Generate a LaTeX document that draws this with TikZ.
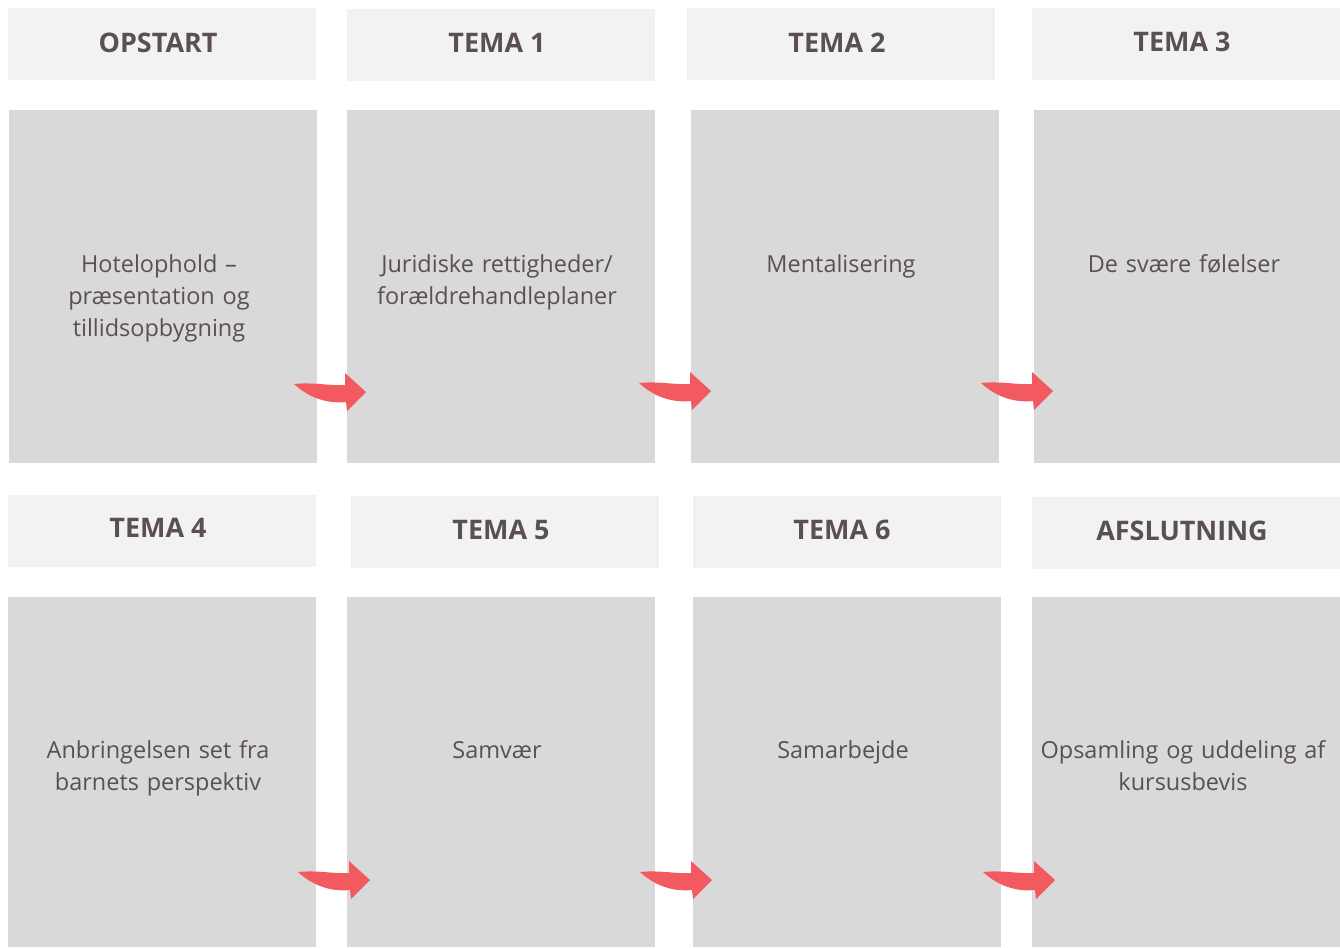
\documentclass[tikz,border=0pt]{standalone}
\usepackage{fontspec}
\setmainfont{Open Sans}
\definecolor{hdrfill}{HTML}{F2F2F2}
\definecolor{bodyfill}{HTML}{D9D9D9}
\definecolor{txt}{HTML}{5B5051}
\definecolor{arrowred}{HTML}{F25A60}
\tikzset{
  hdr/.style={fill=hdrfill, draw=none, minimum width=308*0.75pt, minimum height=72*0.75pt, inner sep=0pt},
  hdrtxt/.style={text=txt, font=\fontsize{20.2}{24}\selectfont\bfseries, inner sep=0pt},
  bodybox/.style={fill=bodyfill, draw=none, minimum width=308*0.75pt, minimum height=353*0.75pt, inner sep=0pt},
  bodytxt/.style={text=txt, font=\fontsize{17.6}{24}\selectfont, text width=300*0.75pt, align=center, inner sep=0pt, anchor=base},
  curvearrow/.pic={
    \fill[arrowred] (-72,-8) .. controls (-52,-10) and (-36,-6) .. (-21,-7)
      -- (-21,-19) -- (0,0) -- (-19,19) -- (-20,10)
      .. controls (-40,12) and (-58,5) .. (-72,-8) -- cycle;
  }
}
\begin{document}
\begin{tikzpicture}[x=0.75pt,y=-0.75pt]
\useasboundingbox (0,0) rectangle (1340,947);
% top row headers
\node[hdr] (h0) at (162,44) {};
\node[hdr] (h1) at (501,44.5) {};
\node[hdr] (h2) at (841,44) {};
\node[hdr] (h3) at (1186,44) {};
\node[hdrtxt] (h0t) at (158,43) {OPSTART};
\node[hdrtxt] (h1t) at (497,43) {TEMA 1};
\node[hdrtxt] (h2t) at (837,43) {TEMA 2};
\node[hdrtxt] (h3t) at (1182,42) {TEMA 3};
% top row bodies
\node[bodybox] (b0) at (163,286.5) {};
\node[bodybox] (b1) at (501,286.5) {};
\node[bodybox] (b2) at (845,286.5) {};
\node[bodybox, minimum width=306*0.75pt] (b3) at (1187,286.5) {};
\node[bodytxt] (t0) at (159,272) {Hotelophold –\\præsentation og\\tillidsopbygning};
\node[bodytxt] (t1) at (497,272) {Juridiske rettigheder/\\forældrehandleplaner};
\node[bodytxt] (t2) at (841,272) {Mentalisering};
\node[bodytxt] (t3) at (1184,272) {De svære følelser};
% bottom row headers
\node[hdr] (h4) at (162,530.5) {};
\node[hdr] (h5) at (505,531.5) {};
\node[hdr] (h6) at (847,531.5) {};
\node[hdr] (h7) at (1186,532.5) {};
\node[hdrtxt] (h4t) at (158,528) {TEMA 4};
\node[hdrtxt] (h5t) at (501,530) {TEMA 5};
\node[hdrtxt] (h6t) at (842,530) {TEMA 6};
\node[hdrtxt] (h7t) at (1182,531) {AFSLUTNING};
% bottom row bodies
\node[bodybox, minimum height=350*0.75pt] (b4) at (162,772) {};
\node[bodybox, minimum height=350*0.75pt] (b5) at (501,772) {};
\node[bodybox, minimum height=350*0.75pt] (b6) at (847,772) {};
\node[bodybox, minimum height=350*0.75pt] (b7) at (1186,772) {};
\node[bodytxt] (t4) at (158,758) {Anbringelsen set fra\\barnets perspektiv};
\node[bodytxt] (t5) at (497,758) {Samvær};
\node[bodytxt] (t6) at (843,758) {Samarbejde};
\node[bodytxt] (t7) at (1183,758) {Opsamling og uddeling af\\kursusbevis};
% arrows
\pic at (366,392) {curvearrow};
\pic at (711,391) {curvearrow};
\pic at (1053,391) {curvearrow};
\pic at (370,880) {curvearrow};
\pic at (712,880) {curvearrow};
\pic at (1055,880) {curvearrow};
\end{tikzpicture}
\end{document}
